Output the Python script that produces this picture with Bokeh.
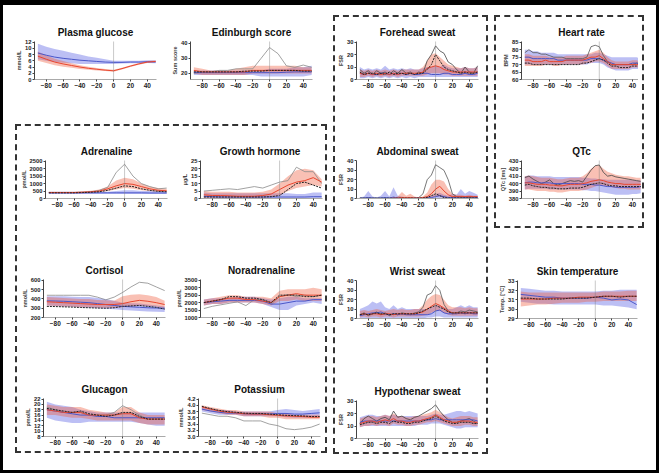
from bokeh.plotting import figure
from bokeh.layouts import row, column
from bokeh.models import (Range1d, FixedTicker, Span, Spacer, PrintfTickFormatter,
                          GlobalInlineStyleSheet)
from bokeh.embed import file_html
from bokeh.resources import INLINE

# ---------------- data ----------------
X15 = [-90, -80, -70, -60, -50, -40, -30, -20, -10, 0, 10, 20, 30, 40, 50]
XD = [-90, -85, -80, -75, -70, -65, -60, -55, -50, -45, -40, -35, -30, -25, -20,
      -15, -10, -5, 0, 5, 10, 15, 20, 25, 30, 35, 40, 45, 50]
XTICKS = [-80, -60, -40, -20, 0, 20, 40]

# Plasma glucose
GLU_BLUE = [8.5, 7.8, 7.2, 6.8, 6.5, 6.2, 6.0, 5.8, 5.6, 5.5, 5.5, 5.6, 5.6, 5.7, 5.6]
GLU_BLUE_HI = [11.5, 10.5, 9.8, 9.2, 8.6, 8.0, 7.4, 7.0, 6.5, 6.0, 6.0, 6.0, 6.0, 6.2, 6.2]
GLU_BLUE_LO = [6.5, 6.0, 5.6, 5.4, 5.2, 5.0, 5.0, 5.0, 5.0, 5.0, 5.1, 5.2, 5.2, 5.3, 5.2]
GLU_RED = [7.5, 6.5, 5.6, 5.0, 4.5, 4.0, 3.6, 3.3, 3.0, 2.8, 3.5, 4.3, 5.0, 5.6, 5.8]
GLU_RED_HI = [9.0, 7.8, 6.7, 5.9, 5.2, 4.6, 4.1, 3.7, 3.4, 3.1, 3.8, 4.6, 5.3, 5.9, 6.1]
GLU_RED_LO = [6.0, 5.3, 4.6, 4.1, 3.8, 3.4, 3.1, 2.9, 2.7, 2.5, 3.2, 4.0, 4.7, 5.3, 5.5]

# Edinburgh score
EDI_GREY = [20, 21, 21, 22, 22, 23, 23, 23, 30, 37, 33, 25, 24, 25.5, 24]
EDI_RED_HI = [24, 23, 22, 22, 22, 23, 24, 25, 25, 25, 25, 25, 25, 24, 24]
EDI_RED_LO = [20, 19, 19, 19, 19, 19, 19, 20, 20, 20, 20, 20, 20, 20, 20]
EDI_RED = [22, 21, 21, 21, 21, 21, 21, 22, 22, 22, 22, 22, 22, 22, 22]
EDI_BLUE_HI = [22, 22, 22, 22, 22, 22, 22, 22, 22, 23, 23, 23, 24, 24, 25]
EDI_BLUE_LO = [19, 19, 19, 19, 19, 19, 19, 19, 18, 18, 18, 18, 18, 18, 19]
EDI_BLUE = [20.5, 20.5, 20.5, 20.5, 20.5, 20.5, 20.5, 20.5, 20.5, 20.5, 20.5, 20.8, 21, 21, 21]
EDI_DOT = [21, 21, 21, 21, 21, 21, 21.5, 21.5, 21.5, 22, 22, 22, 22, 21.5, 21.5]

# Adrenaline
ADR_GREY = [400, 400, 400, 400, 420, 450, 550, 750, 1750, 2300, 1500, 1000, 800, 650, 700]
ADR_RED_HI = [450, 450, 450, 450, 480, 520, 600, 800, 1200, 1400, 1300, 1000, 800, 700, 650]
ADR_RED_LO = [350, 350, 350, 350, 360, 380, 420, 500, 600, 700, 650, 550, 500, 450, 450]
ADR_RED = [400, 400, 400, 400, 420, 450, 500, 650, 850, 1000, 950, 800, 650, 550, 520]
ADR_DOT = [380, 380, 380, 380, 400, 420, 450, 550, 700, 850, 800, 650, 550, 480, 450]
ADR_BLUE_HI = [450, 450, 450, 450, 450, 450, 450, 450, 500, 550, 550, 500, 500, 480, 480]
ADR_BLUE_LO = [300, 300, 300, 300, 300, 300, 300, 300, 300, 300, 300, 300, 300, 300, 300]
ADR_BLUE = [380, 380, 380, 380, 380, 380, 380, 380, 380, 380, 380, 380, 370, 370, 370]

# Growth hormone
GH_GREY = [5, 5.5, 6, 6.5, 6, 7, 8, 7, 9, 11, 12, 21, 18, 18, 10]
GH_RED_HI = [5, 4.5, 4.5, 4.5, 4, 4, 4, 4.5, 6, 10, 15, 19, 20, 19, 13]
GH_RED_LO = [0.5, 0.5, 0.5, 0.5, 0.5, 0.5, 0.5, 0.5, 1, 2, 5, 7, 8, 9, 8]
GH_RED = [2.5, 2, 2, 1.8, 1.5, 1.5, 1.5, 2, 3, 6, 9, 11, 12, 14, 11]
GH_DOT = [1, 1, 1, 1, 1, 1, 1, 1, 1.2, 2, 6, 10, 11, 9, 7]
GH_BLUE_HI = [4, 3.5, 3.5, 3.5, 3.5, 3.5, 3.5, 3.5, 3.5, 3.5, 3.5, 3, 3, 4, 4]
GH_BLUE_LO = [0, 0, 0, 0, 0, 0, 0, 0, 0, 0, 0, 0, 0, 0, 0]
GH_BLUE = [1.5, 1.2, 1, 1, 1, 1, 1, 1, 1, 1, 1, 1, 1, 1.2, 1.2]

# Cortisol
COR_GREY = [440, 440, 440, 440, 440, 440, 420, 390, 420, 470, 530, 580, 570, 530, 490]
COR_RED_HI = [420, 415, 410, 405, 400, 400, 390, 385, 380, 430, 445, 450, 440, 420, 380]
COR_RED_LO = [330, 325, 320, 315, 310, 310, 305, 305, 305, 310, 320, 330, 325, 320, 300]
COR_RED = [370, 365, 360, 355, 350, 345, 340, 340, 340, 350, 370, 385, 375, 360, 340]
COR_BLUE_HI = [430, 430, 428, 425, 422, 420, 410, 400, 380, 360, 355, 350, 340, 330, 320]
COR_BLUE_LO = [330, 325, 320, 315, 310, 305, 300, 295, 290, 280, 275, 270, 265, 262, 260]
COR_BLUE = [380, 378, 375, 370, 365, 360, 350, 340, 330, 320, 315, 310, 305, 302, 300]
COR_DOT = [320, 318, 315, 312, 308, 305, 302, 300, 305, 320, 325, 330, 320, 310, 290]

# Noradrenaline
NOR_GREY = [1600, 1750, 1850, 1950, 2050, 1800, 2200, 2200, 1900, 2400, 2550, 2400, 2500, 2400, 2500]
NOR_RED_HI = [2200, 2300, 2400, 2500, 2500, 2400, 2400, 2400, 2300, 2800, 2900, 2900, 2900, 3000, 2900]
NOR_RED_LO = [1800, 1900, 1900, 2000, 2000, 2000, 2000, 1900, 1800, 2100, 2100, 2200, 2100, 2100, 2100]
NOR_RED = [2000, 2100, 2200, 2300, 2300, 2200, 2200, 2100, 2000, 2400, 2500, 2600, 2500, 2500, 2500]
NOR_DOT = [2000, 2100, 2200, 2400, 2400, 2300, 2300, 2200, 2000, 2500, 2500, 2500, 2400, 2400, 2500]
NOR_BLUE_HI = [2200, 2300, 2300, 2300, 2400, 2400, 2400, 2300, 2200, 2300, 2400, 2400, 2300, 2300, 2300]
NOR_BLUE_LO = [1800, 1900, 1900, 2000, 2000, 2000, 2000, 1900, 1700, 1500, 1500, 1800, 1900, 2000, 1900]
NOR_BLUE = [2000, 2050, 2100, 2150, 2150, 2150, 2150, 2100, 1900, 1900, 2000, 2100, 2100, 2200, 2200]

# Glucagon
GCG_GREY = [19, 18, 17, 17, 17, 16, 16, 16, 17, 19.5, 18, 16, 14.5, 14.5, 14.5]
GCG_RED_HI = [20, 19.5, 19, 19, 19, 18, 17.5, 17, 17, 19, 19, 17, 16, 16, 16]
GCG_RED_LO = [16, 16, 15.5, 15, 15, 14.5, 14, 14, 14, 14, 14, 13, 12.5, 12.5, 12.5]
GCG_RED = [18, 17.5, 17, 17, 17, 16, 16, 16, 16, 16.5, 16.5, 15, 14.5, 14.5, 14.5]
GCG_DOT = [18.5, 18, 17.5, 17, 17.5, 16.5, 16, 15.5, 16, 17, 17, 15.5, 14.5, 14.5, 14.5]
GCG_BLUE_HI = [21, 20, 19.5, 19, 18, 17.5, 17, 17, 17, 17, 17, 17, 17, 17, 17]
GCG_BLUE_LO = [15, 14, 13.5, 13, 13, 13.5, 13.5, 13.5, 13.5, 13.5, 13.5, 13, 12.5, 12, 12]
GCG_BLUE = [18, 17.5, 17, 16.5, 16, 16, 15.5, 15.5, 15, 15, 15, 15, 15, 15, 15]

# Potassium
POT_GREY = [3.75, 3.7, 3.65, 3.65, 3.6, 3.5, 3.5, 3.5, 3.4, 3.35, 3.25, 3.22, 3.25, 3.3, 3.4]
POT_RED_HI = [4.0, 3.95, 3.9, 3.85, 3.85, 3.8, 3.8, 3.8, 3.8, 3.75, 3.75, 3.7, 3.7, 3.7, 3.7]
POT_RED_LO = [3.85, 3.8, 3.75, 3.7, 3.7, 3.65, 3.65, 3.65, 3.6, 3.6, 3.55, 3.55, 3.55, 3.55, 3.55]
POT_RED = [3.95, 3.88, 3.82, 3.78, 3.76, 3.73, 3.72, 3.72, 3.7, 3.68, 3.66, 3.65, 3.64, 3.62, 3.62]
POT_DOT = [3.97, 3.9, 3.84, 3.8, 3.78, 3.75, 3.74, 3.74, 3.72, 3.7, 3.68, 3.67, 3.66, 3.64, 3.64]
POT_BLUE_HI = [3.95, 3.9, 3.85, 3.85, 3.8, 3.8, 3.8, 3.8, 3.8, 3.85, 3.88, 3.85, 3.82, 3.85, 3.88]
POT_BLUE_LO = [3.8, 3.75, 3.7, 3.7, 3.7, 3.65, 3.65, 3.65, 3.65, 3.65, 3.62, 3.6, 3.6, 3.62, 3.65]
POT_BLUE = [3.88, 3.82, 3.78, 3.75, 3.75, 3.73, 3.72, 3.72, 3.72, 3.74, 3.74, 3.72, 3.72, 3.74, 3.76]

# Forehead sweat
FH_GREY = [8, 5, 7, 4, 7, 5, 6, 4, 7, 5, 8, 5, 6, 4, 6, 5, 15, 20, 27, 23, 21, 14, 12, 8, 5, 10, 6, 5, 11]
FH_RED_HI = [8, 7, 8, 7, 8, 7, 8, 7, 8, 7, 8, 8, 8, 8, 8, 10, 15, 20, 21, 18, 15, 12, 11, 10, 9, 10, 9, 9, 10]
FH_RED_LO = [2, 2, 3, 2, 3, 2, 3, 2, 3, 2, 3, 3, 3, 3, 3, 3, 4, 5, 5, 5, 4, 4, 3, 3, 3, 3, 3, 3, 3]
FH_RED = [5, 4, 5, 4, 5, 4, 5, 4, 5, 4, 5, 5, 5, 5, 5, 6, 9, 10, 11, 10, 8, 7, 6, 6, 6, 6, 6, 6, 6]
FH_BLUE_HI = [10, 8, 9, 8, 9, 8, 11, 8, 9, 8, 9, 8, 9, 8, 8, 9, 10, 10, 11, 10, 12, 10, 9, 9, 9, 10, 9, 9, 10]
FH_BLUE_LO = [1, 1, 2, 1, 2, 1, 2, 1, 2, 1, 2, 1, 2, 1, 2, 2, 2, 2, 2, 2, 2, 2, 2, 2, 2, 2, 2, 2, 2]
FH_BLUE = [5, 4, 5, 4, 4, 5, 5, 4, 5, 4, 5, 4, 5, 4, 4, 5, 5, 4, 4, 4, 5, 5, 4, 4, 4, 5, 4, 4, 5]
FH_DOT = [6, 4, 5, 5, 4, 5, 4, 6, 4, 5, 5, 4, 5, 4, 5, 5, 8, 12, 20, 15, 10, 8, 7, 6, 5, 6, 5, 5, 6]

# Abdominal sweat
AB_GREY = [0.5, 0.5, 0.5, 0.5, 0.5, 0.5, 0.5, 0.5, 0.5, 0.5, 0.5, 0.5, 0.5, 0.5, 1, 5, 20, 25, 36, 33, 30, 20, 5, 2, 1, 1, 1, 1, 1]
AB_RED_HI = [0, 0, 0, 0, 0, 0, 0, 0, 1, 2, 7, 3, 5, 2, 1, 2, 6, 15, 20, 20, 18, 10, 5, 4, 4, 3, 4, 3, 3]
AB_RED_LO = [0, 0, 0, 0, 0, 0, 0, 0, 0, 0, 0, 0, 0, 0, 0, 0, 0, 1, 2, 2, 1, 0, 0, 0, 0, 0, 0, 0, 0]
AB_RED = [0, 0, 0, 0, 0, 0, 0, 0, 0.3, 0.5, 1, 0.8, 1, 0.5, 0.5, 1, 2, 5, 10, 13, 8, 4, 2, 2, 2, 2, 2, 2, 2]
AB_BLUE_HI = [1, 2, 8, 2, 1, 3, 8, 2, 12, 3, 2, 1, 1, 1, 1, 1, 2, 3, 5, 6, 4, 3, 5, 4, 10, 5, 8, 6, 4]
AB_BLUE_LO = [0, 0, 0, 0, 0, 0, 0, 0, 0, 0, 0, 0, 0, 0, 0, 0, 0, 0, 0, 0, 0, 0, 0, 0, 0, 0, 0, 0, 0]
AB_BLUE = [0.3, 0.5, 1, 0.5, 0.3, 0.5, 1, 0.5, 1.5, 0.5, 0.3, 0.3, 0.3, 0.3, 0.3, 0.3, 0.5, 1, 2, 3, 2, 1, 1, 1, 2, 1, 2, 1.5, 1]
AB_DOT = [0.2, 0.2, 0.2, 0.2, 0.2, 0.2, 0.2, 0.2, 0.2, 0.2, 0.3, 0.3, 0.3, 0.3, 0.3, 0.5, 1, 3, 5, 3, 1, 0.5, 0.5, 0.5, 0.5, 0.5, 0.5, 0.5, 0.5]

# Wrist sweat
WR_GREY = [4, 6, 3, 5, 7, 4, 6, 3, 5, 4, 6, 5, 4, 6, 7, 12, 25, 27, 35, 30, 15, 8, 5, 6, 8, 7, 9, 8, 7]
WR_RED_HI = [8, 9, 8, 9, 10, 9, 8, 9, 10, 9, 10, 9, 9, 10, 10, 14, 20, 24, 26, 25, 20, 14, 12, 12, 12, 11, 12, 11, 11]
WR_RED_LO = [1, 2, 1, 2, 2, 1, 2, 2, 1, 2, 2, 2, 2, 2, 2, 3, 4, 6, 8, 8, 6, 4, 3, 3, 3, 3, 3, 3, 3]
WR_RED = [4, 5, 4, 5, 5, 4, 5, 5, 4, 5, 5, 5, 5, 5, 6, 7, 10, 13, 16, 14, 11, 8, 6, 6, 6, 6, 6, 6, 6]
WR_BLUE_HI = [10, 12, 14, 18, 16, 18, 12, 10, 14, 10, 12, 10, 10, 10, 10, 10, 10, 12, 14, 14, 12, 10, 10, 12, 14, 12, 14, 12, 12]
WR_BLUE_LO = [0, 0, 0, 0, 0, 0, 0, 0, 0, 0, 0, 0, 0, 0, 0, 0, 1, 1, 2, 2, 1, 1, 1, 1, 1, 1, 1, 1, 1]
WR_BLUE = [3, 4, 5, 6, 6, 7, 5, 4, 5, 4, 5, 4, 4, 4, 4, 4, 4, 5, 8, 9, 6, 5, 5, 5, 6, 5, 6, 5, 5]
WR_DOT = [4, 5, 4, 5, 6, 5, 5, 4, 5, 5, 5, 5, 5, 5, 6, 8, 10, 12, 14, 12, 10, 7, 6, 6, 6, 6, 6, 6, 6]

# Hypothenar sweat
HY_GREY = [12, 16, 18, 16, 14, 16, 17, 15, 22, 17, 18, 16, 15, 17, 18, 20, 22, 24, 27, 22, 18, 15, 13, 13, 14, 15, 16, 14, 12]
HY_RED_HI = [16, 17, 18, 18, 17, 18, 19, 18, 20, 18, 18, 17, 17, 18, 18, 19, 20, 21, 23, 21, 19, 17, 16, 17, 18, 18, 18, 17, 17]
HY_RED_LO = [9, 10, 10, 11, 10, 11, 11, 10, 12, 11, 11, 10, 10, 11, 11, 12, 13, 13, 14, 13, 12, 11, 10, 10, 10, 11, 11, 10, 10]
HY_RED = [12, 13, 14, 14, 13, 14, 15, 14, 16, 14, 14, 13, 13, 14, 14, 15, 16, 17, 19, 17, 15, 14, 13, 13, 14, 14, 14, 13, 13]
HY_BLUE_HI = [17, 18, 19, 19, 18, 18, 19, 18, 19, 18, 18, 18, 18, 18, 18, 18, 18, 19, 20, 19, 19, 20, 21, 22, 22, 21, 22, 21, 20]
HY_BLUE_LO = [9, 10, 10, 10, 10, 10, 10, 10, 10, 10, 10, 10, 10, 10, 11, 11, 11, 12, 12, 12, 11, 10, 9, 8, 8, 9, 9, 9, 9]
HY_BLUE = [13, 14, 14, 14, 14, 14, 14, 14, 14, 14, 14, 14, 14, 14, 14, 15, 15, 15, 16, 15, 15, 15, 15, 15, 15, 15, 15, 15, 14]
HY_DOT = [11, 12, 13, 13, 12, 13, 13, 12, 14, 13, 13, 12, 12, 13, 13, 14, 15, 16, 18, 16, 14, 13, 12, 12, 13, 13, 13, 12, 12]

# Heart rate
HR_GREY = [78, 80, 78, 78, 77, 77, 76, 75, 75, 75, 74, 74, 74, 74, 74, 75, 82, 83, 82, 76, 72, 70, 70, 70, 70, 70, 70, 71, 71]
HR_RED_HI = [77, 77, 76, 76, 76, 76, 75, 75, 75, 75, 76, 76, 76, 76, 76, 77, 78, 79, 80, 78, 75, 73, 72, 72, 72, 72, 73, 73, 72]
HR_RED_LO = [69, 69, 69, 69, 69, 70, 70, 69, 69, 70, 70, 70, 70, 70, 70, 71, 71, 72, 72, 71, 69, 67, 67, 67, 67, 67, 68, 68, 68]
HR_RED = [73, 73, 72, 72, 72, 73, 72, 72, 72, 72, 73, 73, 73, 73, 73, 74, 75, 75, 76, 74, 72, 70, 70, 70, 70, 70, 70, 70, 70]
HR_BLUE_HI = [80, 80, 79, 79, 78, 78, 78, 78, 77, 77, 77, 77, 77, 77, 77, 77, 77, 78, 78, 77, 76, 75, 75, 75, 75, 75, 75, 75, 74]
HR_BLUE_LO = [70, 70, 70, 70, 70, 70, 70, 70, 70, 70, 70, 70, 70, 70, 70, 70, 71, 71, 71, 70, 68, 67, 66, 66, 66, 66, 67, 67, 67]
HR_BLUE = [75, 75, 74, 74, 74, 74, 74, 74, 73, 73, 73, 73, 73, 73, 73, 73, 74, 74, 74, 73, 72, 71, 70, 70, 70, 70, 71, 71, 70]
HR_DOT = [71, 71, 70, 70, 70, 70, 70, 70, 70, 70, 70, 70, 70, 70, 71, 71, 72, 73, 74, 73, 71, 69, 69, 68, 68, 68, 69, 69, 69]

# QTc
QT_GREY = [408, 410, 406, 403, 400, 402, 405, 400, 398, 400, 402, 404, 403, 404, 402, 410, 418, 424, 425, 415, 410, 411, 409, 408, 407, 406, 405, 404, 403]
QT_RED_HI = [410, 411, 410, 409, 408, 408, 408, 407, 406, 406, 407, 408, 408, 408, 410, 414, 420, 424, 425, 420, 416, 414, 412, 411, 410, 410, 409, 408, 408]
QT_RED_LO = [392, 392, 391, 390, 390, 390, 389, 389, 388, 388, 389, 390, 390, 390, 391, 392, 394, 396, 398, 397, 396, 395, 394, 393, 393, 392, 392, 392, 392]
QT_RED = [401, 401, 400, 399, 399, 399, 398, 398, 397, 397, 398, 399, 399, 399, 400, 401, 403, 404, 405, 404, 402, 401, 400, 400, 399, 399, 399, 399, 399]
QT_BLUE_HI = [410, 411, 411, 410, 410, 410, 410, 409, 409, 409, 409, 409, 409, 409, 408, 408, 407, 407, 406, 406, 405, 405, 405, 405, 405, 405, 405, 404, 404]
QT_BLUE_LO = [392, 393, 393, 393, 393, 393, 392, 392, 392, 392, 392, 392, 392, 392, 391, 391, 390, 390, 389, 388, 387, 386, 385, 385, 385, 385, 386, 386, 387]
QT_BLUE = [401, 402, 402, 401, 401, 401, 401, 400, 400, 400, 400, 400, 400, 400, 399, 399, 399, 398, 398, 397, 396, 396, 395, 395, 395, 395, 395, 395, 396]
QT_DOT = [398, 399, 397, 396, 395, 395, 394, 394, 393, 393, 393, 394, 394, 394, 395, 397, 399, 400, 401, 400, 398, 397, 397, 396, 396, 396, 396, 396, 396]

# Skin temperature
SK_BLUE_HI = [32.3, 32.2, 32.1, 32.0, 32.0, 31.9, 31.9, 31.9, 31.9, 31.9, 32.0, 32.0, 32.1, 32.1, 32.1]
SK_BLUE_LO = [30.8, 30.7, 30.6, 30.6, 30.5, 30.5, 30.5, 30.5, 30.5, 30.5, 30.4, 30.4, 30.3, 30.2, 30.0]
SK_BLUE = [31.6, 31.5, 31.4, 31.3, 31.3, 31.2, 31.2, 31.2, 31.2, 31.3, 31.2, 31.0, 31.1, 31.0, 30.5]
SK_RED_HI = [31.9, 31.8, 31.8, 31.8, 31.8, 31.8, 31.8, 31.8, 31.8, 31.8, 31.9, 31.9, 31.9, 32.0, 32.0]
SK_RED_LO = [30.3, 30.4, 30.5, 30.5, 30.6, 30.7, 30.7, 30.7, 30.8, 30.8, 30.9, 30.9, 30.9, 30.9, 30.9]
SK_RED = [31.1, 31.1, 31.1, 31.1, 31.2, 31.2, 31.2, 31.3, 31.3, 31.3, 31.4, 31.4, 31.4, 31.4, 31.4]
SK_DOT = [31.2, 31.2, 31.1, 31.1, 31.1, 31.1, 31.2, 31.2, 31.2, 31.3, 31.4, 31.4, 31.3, 31.4, 31.4]

# ---------------- styling ----------------
FONT = "Liberation Sans"
BLUE_FILL, BLUE_A = "#3a44e0", 0.34
RED_FILL, RED_A = "#f05a3a", 0.38
BLUE_LINE = "#4a56c8"
RED_LINE = "#e8462e"
FW, FH = 122, 38
TOP, BOT = 20, 14


def panel(title, ylabel, yr, yticks, x, blo, bhi, rlo, rhi, bl, rl, dot=None,
          grey=None, grey_color="#8a8a8a", L=26, R=4, fmt=None, fw=FW):
    p = figure(frame_width=fw, frame_height=FH, x_range=Range1d(-94, 51),
               y_range=Range1d(*yr), min_border_left=L, min_border_right=R,
               min_border_top=TOP, min_border_bottom=BOT, output_backend="svg",
               toolbar_location=None, title=title)
    p.title.text_font = FONT
    p.title.text_font_size = "10px"
    p.title.text_font_style = "bold"
    p.title.align = "center"
    p.title.standoff = 7
    p.title.text_color = "#111"
    p.outline_line_color = None
    p.xgrid.visible = False
    p.ygrid.visible = False
    p.varea(x=x, y1=blo, y2=bhi, fill_color=BLUE_FILL, fill_alpha=BLUE_A)
    p.varea(x=x, y1=rlo, y2=rhi, fill_color=RED_FILL, fill_alpha=RED_A)
    if grey is not None:
        p.line(x, grey, line_color=grey_color, line_width=0.8)
    p.line(x, bl, line_color=BLUE_LINE, line_width=1)
    p.line(x, rl, line_color=RED_LINE, line_width=1)
    if dot is not None:
        p.line(x, dot, line_color="#222", line_width=1, line_dash="2 1")
    p.add_layout(Span(location=0, dimension="height", line_color="#777",
                      line_width=0.8, line_dash="1 1"))
    p.xaxis.ticker = FixedTicker(ticks=XTICKS)
    p.yaxis.ticker = FixedTicker(ticks=yticks)
    if fmt:
        p.yaxis.formatter = PrintfTickFormatter(format=fmt)
    for ax in (p.xaxis[0], p.yaxis[0]):
        ax.major_label_text_font = FONT
        ax.major_label_text_font_style = "bold"
        ax.major_label_text_color = "#222"
        ax.major_label_standoff = 1
        ax.minor_tick_line_color = None
        ax.major_tick_out = 2
        ax.major_tick_in = 0
        ax.major_tick_line_color = "#444"
        ax.axis_line_color = "#444"
    p.xaxis.major_label_text_font_size = "6.5px"
    p.yaxis.major_label_text_font_size = "5.8px"
    p.xaxis.axis_line_color = "#aaa"
    p.yaxis.axis_label = ylabel
    p.yaxis.axis_label_text_font = FONT
    p.yaxis.axis_label_text_font_size = "5.5px"
    p.yaxis.axis_label_text_font_style = "bold"
    p.yaxis.axis_label_standoff = 0
    return p


glu = panel("Plasma glucose", "mmol/L", (0, 12.2), [0, 2, 4, 6, 8, 10, 12], X15,
            GLU_BLUE_LO, GLU_BLUE_HI, GLU_RED_LO, GLU_RED_HI, GLU_BLUE, GLU_RED, R=8)
edi = panel("Edinburgh score", "Sum score", (16, 41), [20, 30, 40], X15,
            EDI_BLUE_LO, EDI_BLUE_HI, EDI_RED_LO, EDI_RED_HI, EDI_BLUE, EDI_RED,
            dot=EDI_DOT, grey=EDI_GREY, R=4)
adr = panel("Adrenaline", "pmol/L", (0, 2550), [0, 500, 1000, 1500, 2000, 2500], X15,
            ADR_BLUE_LO, ADR_BLUE_HI, ADR_RED_LO, ADR_RED_HI, ADR_BLUE, ADR_RED,
            dot=ADR_DOT, grey=ADR_GREY, R=7)
gh = panel("Growth  hormone", "µg/L", (0, 25.5), [0, 5, 10, 15, 20, 25], X15,
           GH_BLUE_LO, GH_BLUE_HI, GH_RED_LO, GH_RED_HI, GH_BLUE, GH_RED,
           dot=GH_DOT, grey=GH_GREY, R=3)
cor = panel("Cortisol", "nmol/L", (200, 610), [200, 300, 400, 500, 600], X15,
            COR_BLUE_LO, COR_BLUE_HI, COR_RED_LO, COR_RED_HI, COR_BLUE, COR_RED,
            dot=COR_DOT, grey=COR_GREY, R=7)
nor = panel("Noradrenaline", "pmol/L", (1000, 3550), [1000, 1500, 2000, 2500, 3000, 3500], X15,
            NOR_BLUE_LO, NOR_BLUE_HI, NOR_RED_LO, NOR_RED_HI, NOR_BLUE, NOR_RED,
            dot=NOR_DOT, grey=NOR_GREY, R=3)
gcg = panel("Glucagon", "pmol/L", (8, 22.2), [8, 10, 12, 14, 16, 18, 20, 22], X15,
            GCG_BLUE_LO, GCG_BLUE_HI, GCG_RED_LO, GCG_RED_HI, GCG_BLUE, GCG_RED,
            dot=GCG_DOT, grey=GCG_GREY, R=7)
pot = panel("Potassium", "mmol/L", (3.0, 4.22), [3.0, 3.2, 3.4, 3.6, 3.8, 4.0, 4.2], X15,
            POT_BLUE_LO, POT_BLUE_HI, POT_RED_LO, POT_RED_HI, POT_BLUE, POT_RED,
            dot=POT_DOT, grey=POT_GREY, R=3, fmt="%.1f")

fh = panel("Forehead sweat", "FSR", (0, 30.5), [0, 10, 20, 30], XD,
           FH_BLUE_LO, FH_BLUE_HI, FH_RED_LO, FH_RED_HI, FH_BLUE, FH_RED,
           dot=FH_DOT, grey=FH_GREY, grey_color="#444", L=20, R=8)
ab = panel("Abdominal sweat", "FSR", (0, 40.5), [0, 10, 20, 30, 40], XD,
           AB_BLUE_LO, AB_BLUE_HI, AB_RED_LO, AB_RED_HI, AB_BLUE, AB_RED,
           dot=AB_DOT, grey=AB_GREY, grey_color="#555", L=20, R=8)
wr = panel("Wrist sweat", "FSR", (0, 40.5), [0, 10, 20, 30, 40], XD,
           WR_BLUE_LO, WR_BLUE_HI, WR_RED_LO, WR_RED_HI, WR_BLUE, WR_RED,
           dot=WR_DOT, grey=WR_GREY, grey_color="#555", L=20, R=8)
hy = panel("Hypothenar sweat", "FSR", (0, 30.5), [0, 10, 20, 30], XD,
           HY_BLUE_LO, HY_BLUE_HI, HY_RED_LO, HY_RED_HI, HY_BLUE, HY_RED,
           dot=HY_DOT, grey=HY_GREY, grey_color="#444", L=20, R=8)

hr = panel("Heart rate", "BPM", (60, 85.5), [60, 65, 70, 75, 80, 85], XD,
           HR_BLUE_LO, HR_BLUE_HI, HR_RED_LO, HR_RED_HI, HR_BLUE, HR_RED,
           dot=HR_DOT, grey=HR_GREY, grey_color="#555", L=17, R=1, fw=120)
qt = panel("QTc", "QTc [ms]", (380, 431), [380, 390, 400, 410, 420, 430], XD,
           QT_BLUE_LO, QT_BLUE_HI, QT_RED_LO, QT_RED_HI, QT_BLUE, QT_RED,
           dot=QT_DOT, grey=QT_GREY, grey_color="#444", L=17, R=1, fw=120)
sk = panel("Skin temperature", "Temp. [°C]", (29, 33.1), [29, 30, 31, 32, 33], X15,
           SK_BLUE_LO, SK_BLUE_HI, SK_RED_LO, SK_RED_HI, SK_BLUE, SK_RED,
           dot=SK_DOT, L=17, R=1, fw=120)

# ---------------- layout ----------------
BOX = {"border": "2px dashed #333"}

box1 = column(Spacer(width=10, height=14), row(adr, gh), Spacer(width=10, height=47),
              row(cor, nor), Spacer(width=10, height=47), row(gcg, pot),
              Spacer(width=10, height=1), styles=BOX)
colA = column(Spacer(width=10, height=16), row(glu, edi), Spacer(width=10, height=31),
              row(Spacer(width=7, height=10), box1))

box2 = column(Spacer(width=10, height=4), fh, Spacer(width=10, height=47), ab,
              Spacer(width=10, height=48), wr, Spacer(width=10, height=48), hy,
              styles=BOX)
colB = column(Spacer(width=10, height=10), box2)

box3 = column(Spacer(width=10, height=4), hr, Spacer(width=10, height=47), qt,
              Spacer(width=10, height=14), styles=BOX)
colC = column(Spacer(width=10, height=10), box3, Spacer(width=10, height=32),
              row(Spacer(width=2, height=10), sk))

root = column(row(Spacer(width=5, height=10), colA, Spacer(width=6, height=10), colB,
                  Spacer(width=6, height=10), colC),
              width=653, height=465,
              styles={"background-color": "white"},
              stylesheets=[GlobalInlineStyleSheet(
                  css="html, body {background-color:#000;} body {padding:5px 3px 3px 3px;}")])

open("out.html", "w").write(file_html(root, INLINE))
